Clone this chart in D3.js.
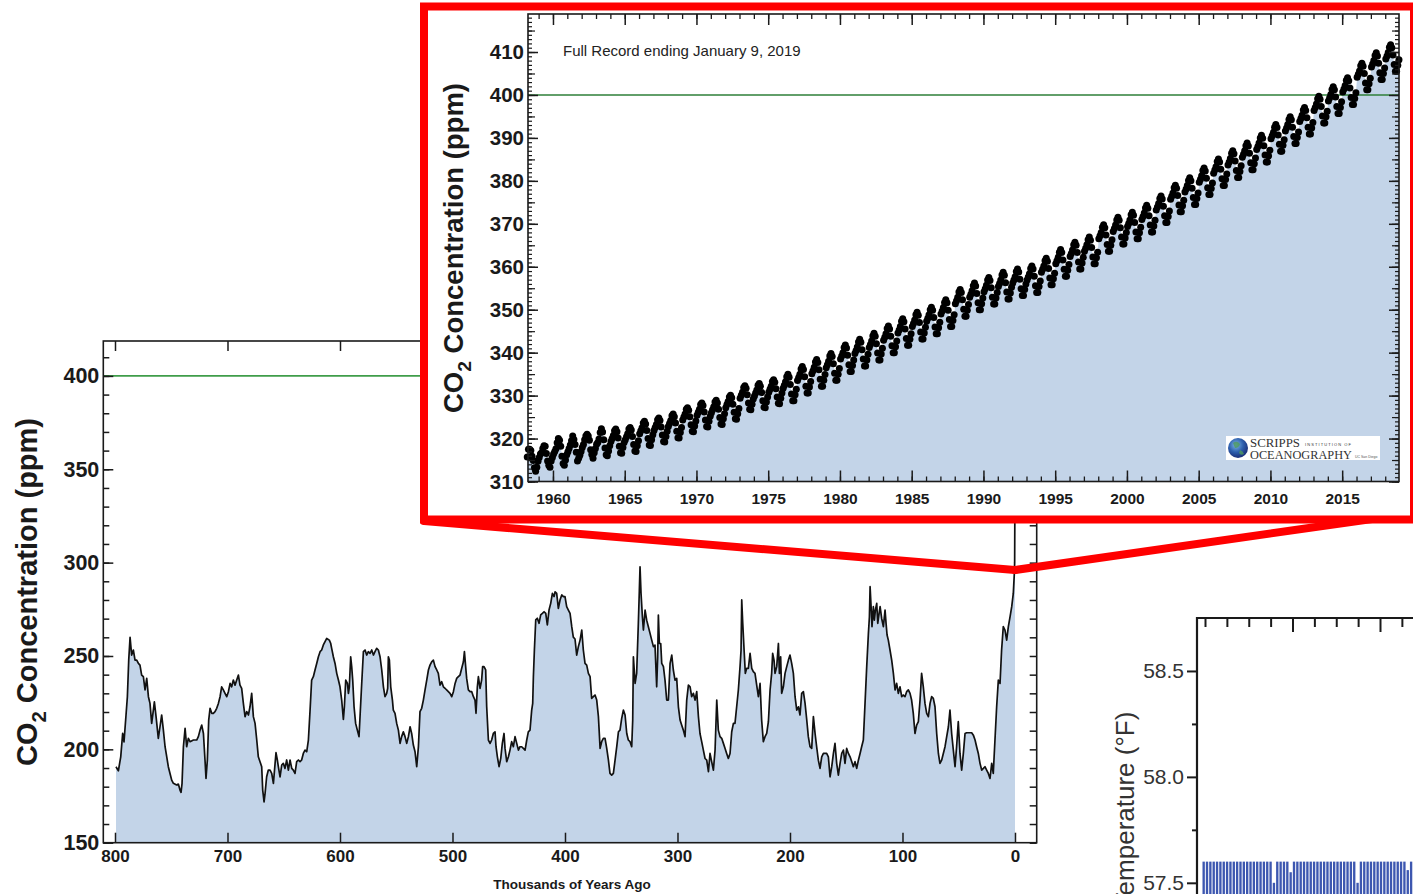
<!DOCTYPE html>
<html><head><meta charset="utf-8">
<script src="https://cdn.jsdelivr.net/npm/d3@7"></script>
<style>html,body{margin:0;padding:0;background:#fff;overflow:hidden}</style>
</head><body>
<svg id="c" width="1413" height="894"></svg>
<script>
// ---------- DATA ----------
// Ice-core CO2 record: [thousands of years ago, ppm]
const iceCoreCO2 = [
[799.1,190.7],[797,188.5],[794.9,196],[793.2,208.5],[792,204],[790.2,218.4],[789,228.2],[787.8,247.8],[786.6,260],[785.2,250.5],[783.7,253.2],[782.2,247.8],[780.7,247.8],[779.2,246],[777.8,245.1],[776.3,239.8],[774.8,238.9],[773.3,231.8],[771.8,238],[770.3,228.2],[768.9,224.6],[767.4,213.9],[765.9,221],[765,225.5],[763.5,217.5],[761.5,205.9],[760,212.1],[758.5,218.4],[757,210.3],[755.5,201.4],[754,196],[752.6,190.7],[751.1,187.1],[749.6,183.5],[748.1,181.8],[745.2,180.9],[743.7,181.4],[742.2,178.2],[741.3,177],[740.4,181.8],[739.2,201.4],[737.7,211.2],[736.3,201.4],[734.8,205.9],[733.3,204.1],[730.3,205],[727.4,205],[725.9,206.8],[724.4,210.3],[722.9,213],[721.4,208.5],[720,194.3],[719.1,184.4],[717.9,194.3],[716.7,215.7],[715.5,222],[714,219.3],[712.6,219.3],[711.1,220.2],[709.6,222],[708.1,224.6],[706.6,228.2],[705.2,233.5],[703.7,231.8],[702.2,230],[700.7,228.2],[699.2,230.9],[697.7,235.3],[696.3,233.5],[694.8,237.1],[693.3,234.4],[691.8,237.1],[690.3,239.8],[688.9,234.4],[687.4,232.7],[685.9,224.6],[684.4,217.5],[682.9,220.2],[681.4,218.4],[680,222.8],[678.5,230],[677,217.5],[675.5,213.9],[674,205],[672.6,196],[671.1,193.4],[669.6,190.7],[668.7,178.2],[667.5,171.9],[666.6,176.4],[665.2,185.3],[663.7,188.9],[662.2,188.9],[660.7,187.1],[659.2,181.8],[657.7,192.5],[656.9,198.2],[655.7,194.3],[654.8,190.7],[653.3,185.3],[651.8,191.6],[650.4,192.5],[648.9,189.8],[647.4,194.3],[645.9,188.9],[644.4,194.3],[642.9,189.8],[641.5,188.9],[640,187.1],[638.5,193.4],[637,194.3],[635.5,193.4],[634.1,194.3],[632.6,197.8],[631.1,199.6],[629.6,198.7],[628.1,205],[626.6,221],[625.2,237.1],[623.7,238.9],[622.2,242.5],[620.7,246],[619.2,249.6],[617.7,252.3],[616.3,253.2],[614.8,255.9],[613.3,257.7],[611.8,259.4],[609.5,258.5],[608.3,256.8],[607.4,254.1],[605.9,249.6],[604.4,246],[602.9,240.7],[601.4,237.1],[600,233.5],[598.5,226.4],[597,216],[596.1,222.8],[594.9,237.1],[593.4,235.3],[592.5,230],[591.7,233.5],[590.5,249.6],[589.6,244.3],[588.7,237.1],[587.5,222.8],[586.1,213.9],[584.6,210.3],[583.1,206.8],[582.2,217.5],[580.7,235.3],[579.2,252.3],[577.7,253.2],[576.3,250.5],[574.8,252.3],[573.3,251.4],[571.8,253.2],[570.3,250.5],[568.9,252.3],[567.4,254.1],[565.9,253.2],[564.4,249.6],[562.9,242.5],[561.4,233.5],[560,228.2],[558.5,230],[557.6,232.7],[557,249.6],[556.1,247.8],[554.9,233.5],[553.4,226.4],[552.6,221],[551.1,219.3],[549.6,213.9],[548.1,210.3],[546.6,203.2],[545.2,206.8],[543.7,209.4],[542.2,206.8],[540.7,203.2],[539.2,206.8],[537.7,212.1],[536.3,208.5],[534.8,202.3],[533.3,198.7],[531.8,190.7],[530.3,201.4],[528.9,220.2],[527.4,222],[525.9,226.4],[524.4,231.8],[522.9,237.1],[521.4,242.5],[520,245.1],[518.5,246.9],[517,247.8],[515.5,244.3],[514,242.5],[512.6,240.7],[511.1,234.4],[509.6,236.2],[508.1,233.5],[506.6,232.7],[505.2,231.8],[503.7,230.9],[502.2,230],[500.7,228.2],[499.2,230.9],[497.7,235.3],[496.3,238],[494.8,238.9],[493.3,239.8],[491.8,243.4],[490.3,246.9],[489.4,252.3],[488.3,244.3],[487.4,238],[485.9,231.8],[484.4,230.9],[482.9,230.9],[481.4,228.2],[480,226.4],[479.1,219.3],[477.9,233.5],[477,238.9],[475.5,232.7],[474.1,237.1],[473.2,244.3],[472,244.3],[470.5,242.5],[469.6,222.8],[468.1,205],[466.6,203.2],[465.2,205],[463.7,208.5],[462.2,209.4],[461.3,201.4],[460.1,196],[458.6,190.7],[457.1,195.2],[455.7,203.2],[454.2,208.5],[453.3,200.5],[451.8,193.4],[450.3,196],[448.9,199.6],[447.4,204.1],[445.9,201.4],[444.4,206.8],[442.9,203.2],[441.4,199.6],[440,201.4],[438.5,201.4],[437,200.5],[435.5,199.6],[434,205],[432.6,209.4],[431.1,210.3],[429.6,221],[428.7,224.6],[428.1,238.9],[427.2,253.2],[426,269.3],[424.6,270.2],[423.1,267.5],[421.6,272],[420.1,272.8],[418.6,273.7],[417.1,272.8],[415.7,266.6],[414.2,274.6],[412.7,278.2],[411.2,283.5],[409.7,281.8],[408.8,284.4],[407.4,283.5],[405.9,275.5],[404.4,280],[402.9,282.7],[401.4,281.8],[400,281.8],[398.5,276.4],[397,274.6],[395.5,272.8],[394,265.7],[392.6,260.1],[391.1,259.1],[389.6,250.5],[388.1,255],[386.6,258.5],
[385.1,263.9],[383.7,253.2],[382.2,246],[380.7,245.1],[379.2,240.7],[377.7,238.9],[376.3,227.3],[374.8,228.2],[373.3,229.1],[371.8,226.4],[370.3,217.5],[368.8,200.5],[367.4,204.1],[365.9,205.9],[364.4,205.9],[362.9,200.5],[361.4,194.2],[360,187.1],[358.5,186.2],[357,187.1],[355.5,194.2],[354,201.4],[352.5,209.4],[351.1,210.3],[349.6,216.6],[348.1,221],[346.6,218.4],[345.1,208.5],[343.7,205],[342.2,204.1],[340.7,201.4],[339.8,215.7],[339.2,249.6],[337.7,235.3],[336.3,240.7],[334.8,267.5],[333.9,285.3],[333.3,297.8],[332.4,283.5],[331.2,271],[330.3,263.9],[328.8,274.6],[327.4,269.2],[325.9,265.7],[324.4,262.1],[322.9,258.5],[321.4,255],[320,255.8],[318.5,233.5],[317.6,249.6],[317,271.9],[316.1,256.7],[314.9,256.7],[314,246],[312.5,244.3],[311.1,237.1],[309.6,226.4],[308.1,226.4],[306.6,246],[305.1,250.5],[303.7,242.5],[302.2,237.1],[300.7,238],[299.2,222.8],[297.7,215.7],[296.3,213],[294.8,210.3],[293.3,206.8],[291.8,226.4],[290.3,234.4],[288.8,233.5],[287.4,228.2],[285.9,230],[284.4,226.4],[282.9,230.9],[281.4,217.5],[280,208.5],[278.5,204.1],[277,199.6],[275.5,195.1],[274,194.2],[272.5,188],[271.1,197.8],[269.6,193.3],[268.1,188.9],[266.6,199.6],[265.1,226.4],[263.7,210.3],[262.2,206.8],[260.7,205.9],[259.2,203.2],[257.7,200.5],[256.3,197.8],[254.8,195.1],[253.3,197.8],[251.8,209.4],[250.3,213.9],[248.9,213.9],[247.4,222.8],[245.9,231.8],[244.4,244.3],[243.5,253.2],[242.9,280],[242,267.5],[240.8,253.2],[239.7,240.7],[238.5,243.4],[237,243.4],[235.5,251.4],[234,243.4],[232.6,241.6],[231.1,240.7],[229.6,234.4],[228.1,228.2],[226.6,235.3],[225.2,215.7],[223.7,204.1],[222.2,206.8],[220.7,208.5],[219.2,214.8],[217.7,231.8],[216.3,240.7],[215.4,251.4],[214.2,247.8],[213.3,240.7],[211.8,244.3],[210.3,256.7],[209.4,240.7],[208.3,249.6],[207.4,230],[205.9,233.5],[204.4,240.7],[202.9,244.3],[201.4,247.8],[200,250.5],[198.5,246],[197,240.7],[195.5,228.2],[194,221],[192.5,222.8],[191.1,218.4],[189.6,230],[188.1,230.9],[186.6,224.6],[185.1,215.7],[183.7,206.8],[182.2,201.4],[180.7,200.5],[179.2,217.5],[177.7,208.5],[176.3,201.4],[174.8,194.2],[173.3,189.8],[171.8,196],[170.3,197.8],[168.8,197.8],[167.4,197.8],[165.9,196],[164.4,185.3],[162.9,190.7],[161.4,197.8],[160,203.2],[158.5,192.5],[157,186.2],[155.5,192.5],[154,197.8],[152.5,199.6],[151.1,192.5],[149.6,200.5],[148.1,197.8],[146.6,196],[145.1,193.4],[143.7,190.7],[142.2,193.4],[140.7,189.8],[139.2,194.2],[137.7,197.8],[136.3,201.4],[134.8,205],[133.3,224.6],[131.8,244.3],[130.3,262.1],[129.4,271],[128.8,287.1],[127.9,276.4],[127.1,265.7],[125.9,276.4],[125,269.2],[124.1,274.6],[122.9,278.2],[122,267.5],[120.8,272.8],[119.9,276.4],[118.5,270.1],[117,265.7],[115.5,274.6],[114.6,267.5],[113.7,261.2],[112.6,258.5],[111.1,253.2],[109.6,247.8],[108.1,240.7],[106.6,231.8],[105.2,235.3],[103.7,230],[102.2,233.5],[100.7,228.2],[99.3,229.1],[97.8,228.2],[96.3,230.9],[94.8,231.8],[93.3,230],[91.9,226.4],[90.4,219.3],[88.9,208.5],[87.4,213],[85.9,214.8],[84.4,226.4],[83,240.7],[81.5,233.5],[80,224.6],[78.5,219.3],[77,217.5],[75.5,224.6],[74.1,228.2],[72.6,227.3],[71.1,222.8],[69.6,208.5],[68.1,197.8],[66.7,192.5],[65.2,194.2],[63.7,197.8],[62.2,201.4],[60.7,206.8],[59.2,212.1],[57.8,221],[56.3,208.5],[54.8,199.6],[53.3,190.7],[51.9,201.4],[50.4,214.8],[48.9,197.8],[47.4,188.9],[45.9,197.8],[44.4,208.5],[43,208.9],[38.5,208.9],[37,207.6],[35.5,205],[34.1,201.4],[32.6,197.8],[31.1,192.5],[29.6,188.9],[28.1,189.8],[26.7,190.7],[25.2,188.9],[23.7,187.1],[22.2,184.4],[20.7,192.5],[19.3,187.1],[17.8,205],[16.3,222.8],[14.8,237.1],[13.3,235.3],[11.9,253.2],[10.4,265.7],[8.9,263.9],[7.4,258.5],[5.9,265.7],[4.4,271],[2.9,276.4],[1.5,283.5],[0.6,294],[0.3,300],[0.1,330],[0,410]
];
const mainYTicks = [150, 200, 250, 300, 350, 400];
const mainXTicks = [800, 700, 600, 500, 400, 300, 200, 100, 0];
const threshold = 400;

// Mauna Loa monthly means: [year, Jan..Dec] (ppm)
const keelingMonthly = [
[1958,null,null,315.7,317.5,317.5,317.2,315.9,314.9,313.2,312.4,313.3,314.7],
[1959,315.6,316.4,316.7,317.7,318.3,318.2,316.5,314.8,313.8,313.3,314.8,315.6],
[1960,316.4,317.0,317.6,319.0,320.0,319.6,318.2,315.9,314.2,313.8,315.0,316.2],
[1961,316.9,317.7,318.5,319.5,320.6,319.8,318.6,316.8,314.8,315.4,316.1,317.0],
[1962,317.9,318.6,319.7,320.6,321.0,320.6,319.6,317.4,316.3,315.4,316.7,317.7],
[1963,318.7,319.1,319.9,321.4,322.3,321.5,319.7,317.8,316.2,316.0,317.1,318.3],
[1964,319.3,320.0,320.7,321.8,322.2,321.6,320.1,318.2,316.7,316.6,317.9,319.1],
[1965,319.7,320.4,321.1,322.2,322.6,322.0,320.5,318.6,317.1,317.0,318.3,319.5],
[1966,321.1,321.8,322.5,323.6,324.0,323.4,321.9,320.0,318.5,318.4,319.7,320.9],
[1967,321.9,322.6,323.3,324.4,324.8,324.2,322.7,320.8,319.3,319.2,320.5,321.7],
[1968,322.8,323.5,324.2,325.3,325.7,325.1,323.6,321.7,320.2,320.1,321.4,322.6],
[1969,324.3,325.0,325.7,326.8,327.2,326.6,325.1,323.2,321.7,321.6,322.9,324.1],
[1970,325.4,326.1,326.8,327.9,328.3,327.7,326.2,324.3,322.8,322.7,324.0,325.2],
[1971,326.0,326.7,327.4,328.5,328.9,328.3,326.8,324.9,323.4,323.3,324.6,325.8],
[1972,327.2,327.9,328.6,329.7,330.1,329.5,328.0,326.1,324.6,324.5,325.8,327.0],
[1973,329.4,330.1,330.8,331.9,332.3,331.7,330.2,328.3,326.8,326.7,328.0,329.2],
[1974,329.9,330.6,331.3,332.4,332.8,332.2,330.7,328.8,327.3,327.2,328.5,329.7],
[1975,330.8,331.5,332.2,333.3,333.7,333.1,331.6,329.7,328.2,328.1,329.4,330.6],
[1976,331.7,332.4,333.2,334.4,335.0,334.3,332.6,330.4,328.8,328.8,330.2,331.5],
[1977,333.5,334.2,335.0,336.2,336.8,336.1,334.4,332.2,330.6,330.6,332.0,333.3],
[1978,335.1,335.8,336.6,337.8,338.4,337.7,336.0,333.8,332.2,332.2,333.6,334.9],
[1979,336.5,337.2,338.0,339.2,339.8,339.1,337.4,335.2,333.6,333.6,335.0,336.3],
[1980,338.5,339.2,340.0,341.2,341.8,341.1,339.4,337.2,335.6,335.6,337.0,338.3],
[1981,339.8,340.5,341.3,342.5,343.1,342.4,340.7,338.5,336.9,336.9,338.3,339.6],
[1982,341.2,341.9,342.7,343.9,344.5,343.8,342.1,339.9,338.3,338.3,339.7,341.0],
[1983,342.9,343.6,344.4,345.6,346.2,345.5,343.8,341.6,340.0,340.0,341.4,342.7],
[1984,344.6,345.3,346.1,347.3,347.9,347.2,345.5,343.3,341.7,341.7,343.1,344.4],
[1985,346.1,346.8,347.6,348.8,349.4,348.7,347.0,344.8,343.2,343.2,344.6,345.9],
[1986,347.3,348.0,348.8,350.0,350.6,349.9,348.2,346.0,344.4,344.4,345.8,347.1],
[1987,349.0,349.7,350.5,351.7,352.3,351.6,349.9,347.7,346.1,346.1,347.5,348.8],
[1988,351.4,352.1,352.9,354.1,354.7,354.0,352.3,350.1,348.5,348.5,349.9,351.2],
[1989,352.9,353.6,354.4,355.6,356.2,355.5,353.8,351.6,350.0,350.0,351.4,352.7],
[1990,354.2,354.9,355.7,356.9,357.5,356.8,355.1,352.9,351.3,351.3,352.7,354.0],
[1991,355.4,356.1,356.9,358.1,358.7,358.0,356.3,354.1,352.5,352.5,353.9,355.2],
[1992,356.2,356.9,357.7,358.9,359.5,358.8,357.1,354.9,353.3,353.3,354.7,356.0],
[1993,356.9,357.6,358.4,359.6,360.2,359.5,357.8,355.6,354.0,354.0,355.4,356.7],
[1994,358.7,359.4,360.2,361.4,362.0,361.3,359.6,357.4,355.8,355.8,357.2,358.5],
[1995,360.7,361.4,362.2,363.4,364.0,363.3,361.6,359.4,357.8,357.8,359.2,360.5],
[1996,362.4,363.1,363.9,365.1,365.7,365.0,363.3,361.1,359.5,359.5,360.9,362.2],
[1997,363.6,364.3,365.1,366.3,366.9,366.2,364.5,362.3,360.7,360.7,362.1,363.4],
[1998,366.5,367.2,368.0,369.2,369.8,369.1,367.4,365.2,363.6,363.6,365.0,366.3],
[1999,368.2,368.9,369.7,370.9,371.5,370.8,369.1,366.9,365.3,365.3,366.7,368.0],
[2000,369.4,370.1,370.9,372.1,372.7,372.0,370.3,368.1,366.5,366.5,367.9,369.2],
[2001,371.0,371.7,372.5,373.7,374.3,373.6,371.9,369.7,368.1,368.1,369.5,370.8],
[2002,373.2,373.9,374.7,375.9,376.5,375.8,374.1,371.9,370.3,370.3,371.7,373.0],
[2003,375.7,376.4,377.2,378.4,379.0,378.3,376.6,374.4,372.8,372.8,374.2,375.5],
[2004,377.4,378.1,378.9,380.1,380.7,380.0,378.3,376.1,374.5,374.5,375.9,377.2],
[2005,379.7,380.4,381.2,382.4,383.0,382.3,380.6,378.4,376.8,376.8,378.2,379.5],
[2006,381.8,382.5,383.3,384.5,385.1,384.4,382.7,380.5,378.9,378.9,380.3,381.6],
[2007,383.7,384.4,385.2,386.4,387.0,386.3,384.6,382.4,380.8,380.8,382.2,383.5],
[2008,385.5,386.2,387.0,388.2,388.8,388.1,386.4,384.2,382.6,382.6,384.0,385.3],
[2009,387.3,388.0,388.8,390.0,390.6,389.9,388.2,386.0,384.4,384.4,385.8,387.1],
[2010,389.8,390.5,391.3,392.5,393.1,392.4,390.7,388.5,386.9,386.9,388.3,389.6],
[2011,391.6,392.3,393.1,394.3,394.9,394.2,392.5,390.3,388.7,388.7,390.1,391.4],
[2012,393.8,394.5,395.3,396.5,397.1,396.4,394.7,392.5,390.9,390.9,392.3,393.6],
[2013,396.4,397.1,397.9,399.1,399.7,399.0,397.3,395.1,393.5,393.5,394.9,396.2],
[2014,398.6,399.3,400.1,401.3,401.9,401.2,399.5,397.3,395.7,395.7,397.1,398.4],
[2015,400.7,401.4,402.2,403.4,404.0,403.3,401.6,399.4,397.8,397.8,399.2,400.5],
[2016,404.1,404.8,405.6,406.8,407.4,406.7,405.0,402.8,401.2,401.2,402.6,403.9],
[2017,406.5,407.2,408.0,409.2,409.8,409.1,407.4,405.2,403.6,403.6,405.0,406.3],
[2018,408.4,409.1,409.9,411.1,411.7,411.0,409.3,407.1,405.5,405.5,406.9,408.2]
];
const insetYTicks = [310, 320, 330, 340, 350, 360, 370, 380, 390, 400, 410];
const insetXTicks = [1960, 1965, 1970, 1975, 1980, 1985, 1990, 1995, 2000, 2005, 2010, 2015];
const insetNote = "Full Record ending January 9, 2019";

// Partial temperature panel (bottom right)
const tempBars = [57.6,57.6,57.6,57.6,57.6,57.6,57.6,57.6,57.6,57.6,57.6,57.6,57.6,57.6,57.6,57.6,57.6,57.6,57.6,57.6,57.6,57.5,57.6,57.6,57.6,57.6,57.55,57.6,57.6,57.6,57.6,57.6,57.6,57.6,57.6,57.6,57.6,57.6,57.6,57.6,57.6,57.6,57.6,57.6,57.6,57.6,57.5,57.6,57.6,57.6,57.6,57.6,57.6,57.6,57.6,57.6,57.6,57.6,57.6,57.6,57.6,57.56,57.6,57.6];
const tempYTicks = [57.5, 58.0, 58.5];

// ---------- DRAW ----------
const svg = d3.select('#c');
const F = "'Liberation Sans', Arial, Helvetica, sans-serif";
const FILL = '#c3d4e8';
const INK = '#1a1a1a';

function styleAxis(g, size, weight, sw) {
  g.select('.domain').remove();
  g.selectAll('line').attr('stroke', INK).attr('stroke-width', sw || 1.5);
  g.selectAll('text').attr('fill', INK).style('font-family', F)
    .style('font-size', size + 'px').style('font-weight', weight || 'bold');
}

// ===== Main ice-core chart =====
const mx = d3.scaleLinear().domain([810.4, -19.3]).range([103.3, 1036.7]);
const my = d3.scaleLinear().domain([150, 418.7]).range([842.7, 341]);
const gm = svg.append('g');

gm.append('path').datum(iceCoreCO2)
  .attr('d', d3.area().x(d => mx(d[0])).y0(my(150)).y1(d => my(d[1])))
  .attr('fill', FILL);
gm.append('line').attr('x1', mx.range()[0]).attr('x2', mx.range()[1])
  .attr('y1', my(threshold)).attr('y2', my(threshold))
  .attr('stroke', '#3f9d4a').attr('stroke-width', 1.8);
gm.append('path').datum(iceCoreCO2)
  .attr('d', d3.line().x(d => mx(d[0])).y(d => my(d[1])))
  .attr('fill', 'none').attr('stroke', '#111').attr('stroke-width', 1.7)
  .attr('stroke-linejoin', 'round');

// axes
const mL = my.range()[1], mB = my.range()[0], mLe = mx.range()[0], mR = mx.range()[1];
gm.append('g').attr('transform', `translate(${mLe},0)`)
  .call(d3.axisLeft(my).tickValues(d3.range(150, 419, 10)).tickSize(-6).tickFormat(''))
  .call(g => styleAxis(g, 10));
gm.append('g').attr('transform', `translate(${mLe},0)`)
  .call(d3.axisLeft(my).tickValues(mainYTicks).tickSize(-10).tickPadding(4))
  .call(g => styleAxis(g, 21.5));
gm.append('g').attr('transform', `translate(${mR},0)`)
  .call(d3.axisRight(my).tickValues(d3.range(150, 419, 10)).tickSize(-7).tickFormat(''))
  .call(g => styleAxis(g, 10));
gm.append('g').attr('transform', `translate(0,${mB})`)
  .call(d3.axisBottom(mx).tickValues(mainXTicks).tickSize(-10).tickPadding(7))
  .call(g => styleAxis(g, 17));
gm.append('g').attr('transform', `translate(0,${mL})`)
  .call(d3.axisTop(mx).tickValues(mainXTicks).tickSize(-10).tickFormat(''))
  .call(g => styleAxis(g, 10));
gm.append('rect').attr('x', mLe).attr('y', mL).attr('width', mR - mLe).attr('height', mB - mL)
  .attr('fill', 'none').attr('stroke', INK).attr('stroke-width', 1.6);

gm.append('text').attr('x', (mLe + mR) / 2 + 2).attr('y', 889).attr('text-anchor', 'middle')
  .style('font-family', F).style('font-weight', 'bold').style('font-size', '13.5px').attr('fill', INK)
  .text('Thousands of Years Ago');

function co2Label(parent, x, y, size) {
  const t = parent.append('text').attr('transform', `translate(${x},${y}) rotate(-90)`)
    .attr('text-anchor', 'middle').style('font-family', F).style('font-weight', 'bold')
    .style('font-size', size + 'px').attr('fill', INK);
  t.append('tspan').text('CO');
  t.append('tspan').style('font-size', (size * 0.7) + 'px').attr('dy', size * 0.3).text('2');
  t.append('tspan').attr('dy', -size * 0.3).text(' Concentration (ppm)');
}
co2Label(gm, 37, 592, 29);

// ===== Zoom connector lines =====
const red = '#ff0000';
svg.append('line').attr('x1', 424).attr('y1', 521).attr('x2', mx(0)).attr('y2', 570)
  .attr('stroke', red).attr('stroke-width', 8).attr('stroke-linecap', 'round');
svg.append('line').attr('x1', 1372).attr('y1', 519).attr('x2', mx(0)).attr('y2', 570)
  .attr('stroke', red).attr('stroke-width', 8).attr('stroke-linecap', 'round');

// ===== Inset: Keeling curve =====
svg.append('rect').attr('x', 424).attr('y', 6.5).attr('width', 990).attr('height', 513)
  .attr('fill', '#fff').attr('stroke', red).attr('stroke-width', 8);

const ix = d3.scaleLinear().domain([1958.26, 2018.96]).range([528, 1399]);
const iy = d3.scaleLinear().domain([310, 418.85]).range([481.5, 14]);
const gi = svg.append('g');

const pts = [];
keelingMonthly.forEach(r => {
  for (let m = 1; m <= 12; m++) if (r[m] != null) pts.push({ t: r[0] + (m - 0.5) / 12, v: r[m] });
});
gi.append('path').datum(pts)
  .attr('d', d3.area().x(d => ix(d.t)).y0(iy(310)).y1(d => iy(d.v)))
  .attr('fill', FILL);
gi.append('line').attr('x1', ix.range()[0]).attr('x2', ix.range()[1])
  .attr('y1', iy(threshold)).attr('y2', iy(threshold))
  .attr('stroke', '#2e7f38').attr('stroke-width', 1.5);
gi.append('g').selectAll('circle').data(pts).join('circle')
  .attr('cx', d => ix(d.t)).attr('cy', d => iy(d.v)).attr('r', 3.5).attr('fill', '#000');

// logo
const lg = gi.append('g');
lg.append('rect').attr('x', 1226).attr('y', 436).attr('width', 154).attr('height', 24).attr('fill', '#fff');
const grad = svg.append('defs').append('radialGradient').attr('id', 'globe').attr('cx', '40%').attr('cy', '35%').attr('r', '65%');
grad.append('stop').attr('offset', '0%').attr('stop-color', '#7fb6e6');
grad.append('stop').attr('offset', '55%').attr('stop-color', '#2d5fae');
grad.append('stop').attr('offset', '100%').attr('stop-color', '#1a2f78');
lg.append('circle').attr('cx', 1238).attr('cy', 448).attr('r', 10).attr('fill', 'url(#globe)');
lg.append('path').attr('d', 'M1233,443 q4,-3 7,1 q-1,4 -5,4 z M1240,450 q3,1 4,4 q-3,2 -5,-1 z')
  .attr('fill', '#4f9a5c').attr('opacity', 0.8);
const SF = "'Liberation Serif', 'DejaVu Serif', serif";
lg.append('text').attr('x', 1250).attr('y', 446.5).style('font-family', SF).style('font-size', '12px')
  .attr('fill', '#333').attr('textLength', 50).attr('lengthAdjust', 'spacingAndGlyphs').text('SCRIPPS');
lg.append('text').attr('x', 1305).attr('y', 445.5).style('font-family', F).style('font-size', '4px')
  .attr('fill', '#333').attr('textLength', 46).text('INSTITUTION OF');
lg.append('text').attr('x', 1250).attr('y', 458.5).style('font-family', SF).style('font-size', '11.5px')
  .attr('fill', '#333').attr('textLength', 102).attr('lengthAdjust', 'spacingAndGlyphs').text('OCEANOGRAPHY');
lg.append('text').attr('x', 1355).attr('y', 457.5).style('font-family', F).style('font-size', '3.5px')
  .attr('fill', '#555').text('UC San Diego');

// inset axes
const iT = iy.range()[1], iB = iy.range()[0], iLe = ix.range()[0], iR = ix.range()[1];
[[d3.range(310, 419, 1), -4], [d3.range(310, 419, 5), -7]].forEach(([vals, s]) => {
  gi.append('g').attr('transform', `translate(${iLe},0)`)
    .call(d3.axisLeft(iy).tickValues(vals).tickSize(s).tickFormat('')).call(g => styleAxis(g, 10, 'bold', 1.2));
  gi.append('g').attr('transform', `translate(${iR},0)`)
    .call(d3.axisRight(iy).tickValues(vals).tickSize(s).tickFormat('')).call(g => styleAxis(g, 10, 'bold', 1.2));
});
gi.append('g').attr('transform', `translate(${iLe},0)`)
  .call(d3.axisLeft(iy).tickValues(insetYTicks).tickSize(-10).tickPadding(4))
  .call(g => styleAxis(g, 20.5));
gi.append('g').attr('transform', `translate(${iR},0)`)
  .call(d3.axisRight(iy).tickValues(insetYTicks).tickSize(-10).tickFormat(''))
  .call(g => styleAxis(g, 10));
gi.append('g').attr('transform', `translate(0,${iB})`)
  .call(d3.axisBottom(ix).tickValues(d3.range(1959, 2019, 1)).tickSize(-5).tickFormat(''))
  .call(g => styleAxis(g, 10, 'bold', 1.3));
gi.append('g').attr('transform', `translate(0,${iB})`)
  .call(d3.axisBottom(ix).tickValues(insetXTicks).tickSize(-11).tickPadding(11).tickFormat(d3.format('d')))
  .call(g => styleAxis(g, 15.5));
gi.append('g').attr('transform', `translate(0,${iT})`)
  .call(d3.axisTop(ix).tickValues(d3.range(1959, 2019, 1)).tickSize(-5).tickFormat(''))
  .call(g => styleAxis(g, 10, 'bold', 1.3));
gi.append('g').attr('transform', `translate(0,${iT})`)
  .call(d3.axisTop(ix).tickValues(insetXTicks).tickSize(-11).tickFormat(''))
  .call(g => styleAxis(g, 10));
gi.append('rect').attr('x', iLe).attr('y', iT).attr('width', iR - iLe).attr('height', iB - iT)
  .attr('fill', 'none').attr('stroke', INK).attr('stroke-width', 1.6);

gi.append('text').attr('x', 563).attr('y', 56).style('font-family', F).style('font-size', '15px')
  .attr('fill', '#222').text(insetNote);
co2Label(gi, 463, 248, 27.5);

// ===== Bottom-right partial temperature panel =====
const gt = svg.append('g');
const ty = d3.scaleLinear().domain([57.4, 58.75]).range([904, 618]);
const tx = d3.scaleLinear().domain([0, 8]).range([1205, 1380]);
const tb = d3.scaleBand().domain(d3.range(tempBars.length)).range([1202.5, 1202.5 + 3.33 * tempBars.length]).paddingInner(0.3);
gt.append('g').selectAll('rect').data(tempBars).join('rect')
  .attr('x', (d, i) => tb(i)).attr('width', tb.bandwidth())
  .attr('y', d => ty(d)).attr('height', d => ty.range()[0] - ty(d))
  .attr('fill', '#3d57b0');
gt.append('g').attr('transform', 'translate(1197,0)')
  .call(d3.axisLeft(ty).tickValues([57.75, 58.25]).tickSize(5).tickFormat(''))
  .call(g => styleAxis(g, 10, 'normal', 2));
gt.append('g').attr('transform', 'translate(1197,0)')
  .call(d3.axisLeft(ty).tickValues(tempYTicks).tickSize(10).tickPadding(3).tickFormat(d3.format('.1f')))
  .call(g => styleAxis(g, 21, 'normal', 2));
gt.selectAll('text').attr('fill', '#333');
gt.append('g').attr('transform', 'translate(0,618)')
  .call(d3.axisTop(tx).tickValues([0, 1, 2, 3, 5, 6, 7, 9]).tickSize(-9).tickFormat(''))
  .call(g => styleAxis(g, 10, 'normal', 2));
gt.append('g').attr('transform', 'translate(0,618)')
  .call(d3.axisTop(tx).tickValues([4, 8]).tickSize(-14).tickFormat(''))
  .call(g => styleAxis(g, 10, 'normal', 2));
gt.append('path').attr('d', `M1197,${ty.range()[0]}V618H1413`).attr('fill', 'none')
  .attr('stroke', INK).attr('stroke-width', 2.2);
gt.append('text').attr('transform', 'translate(1134,810) rotate(-90)').attr('text-anchor', 'middle')
  .style('font-family', F).style('font-size', '26px').attr('fill', '#333').text('Temperature (°F)');
</script>
</body></html>
